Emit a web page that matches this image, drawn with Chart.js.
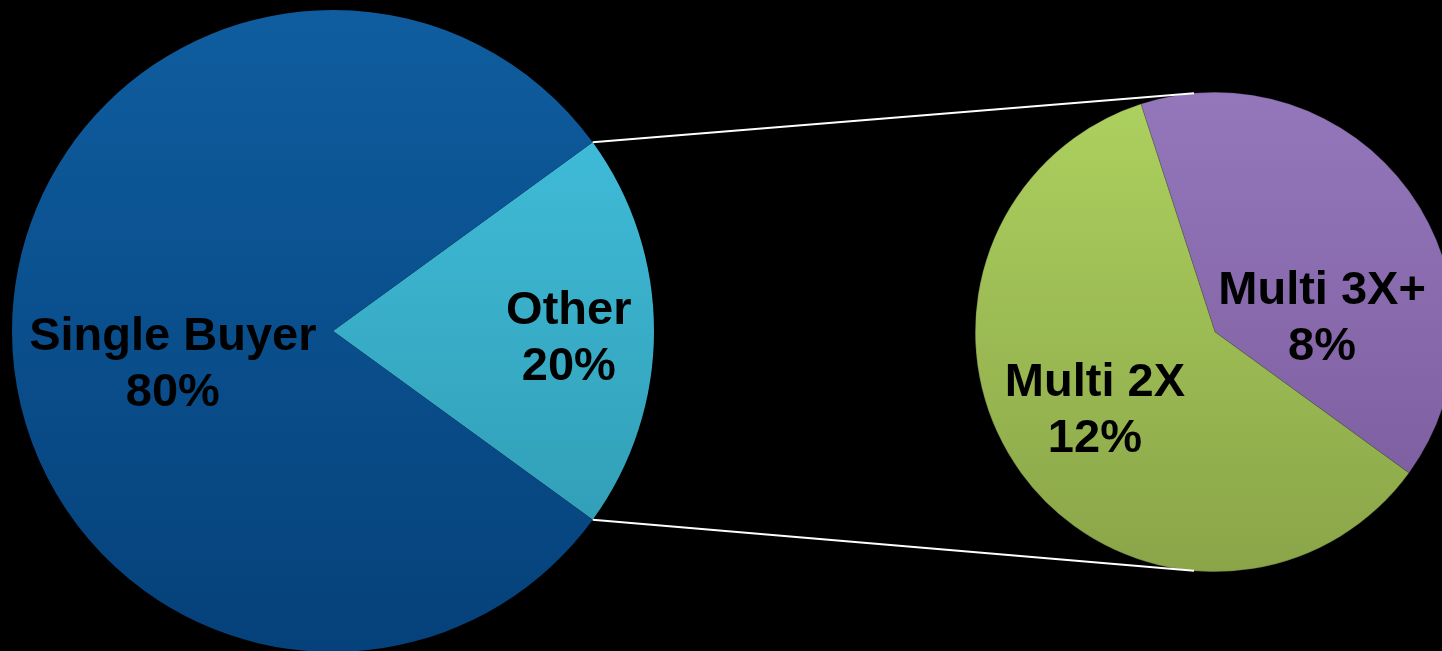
<!DOCTYPE html>
<html lang="en">
<head>
    <meta charset="UTF-8">
    <title>Buyer Mix</title>
    <script src="https://cdn.jsdelivr.net/npm/chart.js"></script>
    <style>
        html, body {
            margin: 0;
            width: 1442px;
            height: 651px;
            overflow: hidden;
            background: #000;
            font-family: 'Liberation Sans', Arial, sans-serif;
        }
        .box { position: absolute; }
        #mainBox { left: 12px; top: 10px; width: 642px; height: 642px; }
        #subBox { left: 975px; top: 92px; width: 480px; height: 480px; }
        #lines { position: absolute; left: 0; top: 0; pointer-events: none; }
    </style>
</head>
<body>

    <div id="mainBox" class="box"><canvas id="mainPie"></canvas></div>
    <div id="subBox" class="box"><canvas id="subPie"></canvas></div>
    <canvas id="lines" width="1442" height="651"></canvas>

    <script>
        // main pie
        const mainLabels = ['Other', 'Single Buyer'];
        const mainValues = [20, 80];
        // breakdown of "Other"
        const subLabels = ['Multi 3X+', 'Multi 2X'];
        const subValues = [8, 12];

        // top / bottom colour pairs, one per slice
        function vGradient(pairs) {
            return function (ctx) {
                const [top, bottom] = pairs[ctx.dataIndex];
                const area = ctx.chart.chartArea;
                if (!area) return top;
                const g = ctx.chart.ctx.createLinearGradient(0, area.top, 0, area.bottom);
                g.addColorStop(0, top);
                g.addColorStop(1, bottom);
                return g;
            };
        }

        // text inside slices, placed by radius fraction and angle (deg, 0 = east)
        const sliceText = {
            id: 'sliceText',
            afterDatasetsDraw(chart, args, opts) {
                const ctx = chart.ctx;
                const arcs = chart.getDatasetMeta(0).data;
                ctx.save();
                ctx.font = 'bold 47px "Liberation Sans", Arial, sans-serif';
                ctx.fillStyle = '#000';
                ctx.textAlign = 'center';
                ctx.textBaseline = 'middle';
                arcs.forEach((arc, i) => {
                    const p = opts.place[i];
                    const a = p.a * Math.PI / 180;
                    const x = arc.x + Math.cos(a) * arc.outerRadius * p.r;
                    const y = arc.y + Math.sin(a) * arc.outerRadius * p.r;
                    const pct = chart.data.datasets[0].data[i] + '%';
                    ctx.fillText(chart.data.labels[i], x, y - 28);
                    ctx.fillText(pct, x, y + 28);
                });
                ctx.restore();
            }
        };

        const baseOptions = {
            responsive: true,
            maintainAspectRatio: false,
            animation: false,
            layout: { padding: 0 },
            plugins: { legend: { display: false }, tooltip: { enabled: false } }
        };

        const mainChart = new Chart(document.getElementById('mainPie'), {
            type: 'pie',
            data: {
                labels: mainLabels,
                datasets: [{
                    data: mainValues,
                    backgroundColor: vGradient([['#43c4e2', '#2e96ad'], ['#0f5d9f', '#05417a']]),
                    borderWidth: 0
                }]
            },
            options: {
                ...baseOptions,
                rotation: 54,
                plugins: {
                    ...baseOptions.plugins,
                    sliceText: { place: [{ r: 0.735, a: 2 }, { r: 0.51, a: 168 }] }
                }
            },
            plugins: [sliceText]
        });

        const subChart = new Chart(document.getElementById('subPie'), {
            type: 'pie',
            data: {
                labels: subLabels,
                datasets: [{
                    data: subValues,
                    backgroundColor: vGradient([['#9476bb', '#795b9c'], ['#add15f', '#8aa548']]),
                    borderColor: 'rgba(60,60,60,0.5)',
                    borderWidth: 0.5
                }]
            },
            options: {
                ...baseOptions,
                rotation: -18,
                plugins: {
                    ...baseOptions.plugins,
                    sliceText: { place: [{ r: 0.45, a: -7 }, { r: 0.6, a: 146.6 }] }
                }
            },
            plugins: [sliceText]
        });

        // connector lines from the "Other" slice to the breakdown pie
        function drawConnectors() {
            const c = document.getElementById('lines').getContext('2d');
            const mBox = document.getElementById('mainPie').getBoundingClientRect();
            const sBox = document.getElementById('subPie').getBoundingClientRect();
            const other = mainChart.getDatasetMeta(0).data[0];
            const sub = subChart.getDatasetMeta(0).data[0];
            const mx = mBox.left + other.x, my = mBox.top + other.y, mr = other.outerRadius;
            const sx = sBox.left + sub.x, sy = sBox.top + sub.y, sr = sub.outerRadius;
            const ends = [[other.startAngle, -95], [other.endAngle, 95]];
            c.strokeStyle = '#fff';
            c.lineWidth = 2;
            ends.forEach(([a, b]) => {
                const bb = b * Math.PI / 180;
                c.beginPath();
                c.moveTo(mx + Math.cos(a) * mr, my + Math.sin(a) * mr);
                c.lineTo(sx + Math.cos(bb) * sr, sy + Math.sin(bb) * sr);
                c.stroke();
            });
        }
        drawConnectors();
    </script>
</body>
</html>
